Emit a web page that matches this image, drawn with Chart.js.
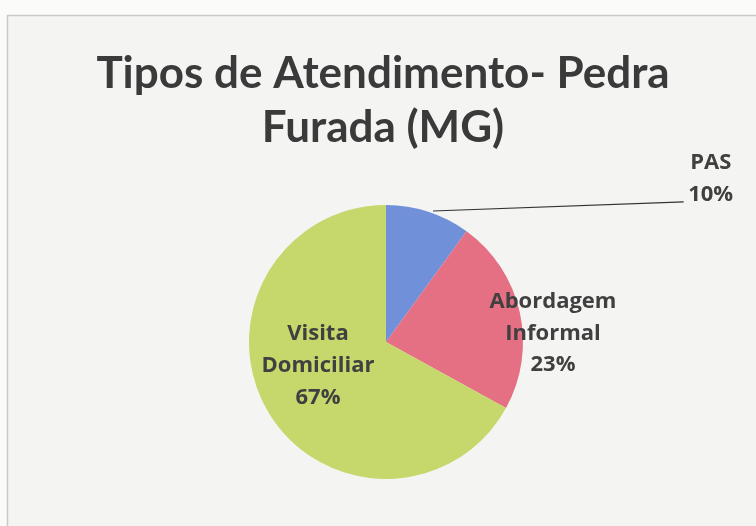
<!DOCTYPE html>
<html><head><meta charset="utf-8">
<script src="https://cdn.jsdelivr.net/npm/chart.js@4/dist/chart.umd.min.js"></script>
<style>html,body{margin:0;padding:0;background:#f7f7f5}canvas{display:block}</style>
</head><body>
<div style="width:756px;height:526px"><canvas id="c" width="756" height="526"></canvas></div>
<script>
const titleLines = ["Tipos de Atendimento- Pedra", "Furada (MG)"];
const categories = ["PAS", "Abordagem Informal", "Visita Domiciliar"];
const labelLines = [["PAS", "10%"], ["Abordagem", "Informal", "23%"], ["Visita", "Domiciliar", "67%"]];
const values = [10, 23, 67];
const colors = ["#7090d9", "#e57084", "#c6d76b"];

const decor = {
  id: 'decor',
  beforeDraw(chart) {
    const ctx = chart.ctx;
    ctx.save();
    ctx.fillStyle = '#fbfbfa';
    ctx.fillRect(0, 0, chart.width, chart.height);
    ctx.fillStyle = '#f4f4f2';
    ctx.fillRect(8, 15, chart.width - 8, chart.height - 15);
    ctx.strokeStyle = '#c9c9c6';
    ctx.lineWidth = 1.5;
    ctx.beginPath();
    ctx.moveTo(7.5, chart.height); ctx.lineTo(7.5, 15.5); ctx.lineTo(chart.width, 15.5);
    ctx.stroke();
    ctx.fillStyle = '#3a3a3a';
    ctx.textAlign = 'center';
    ctx.textBaseline = 'alphabetic';
    ctx.font = 'bold 44px Lato';
    ctx.fillText(titleLines[0], 383, 88);
    ctx.fillText(titleLines[1], 383, 142);
    ctx.restore();
  },
  afterDatasetsDraw(chart) {
    const ctx = chart.ctx;
    const arcs = chart.getDatasetMeta(0).data;
    ctx.save();
    ctx.fillStyle = '#404040';
    ctx.font = 'bold 22px "Open Sans"';
    ctx.textAlign = 'center';
    ctx.textBaseline = 'middle';
    const place = [null, {f: 1.249, dy: 29, lh: 31.5}, {f: 0.577, dy: -17, lh: 32}];
    arcs.forEach((a, i) => {
      const mid = (a.startAngle + a.endAngle) / 2;
      const r = a.outerRadius;
      const lines = labelLines[i];
      let cx, cy, lh;
      if (i === 0) {
        cx = a.x + r * 2.37; cy = a.y - r * 1.19; lh = 32;
        ctx.strokeStyle = '#333';
        ctx.lineWidth = 1.2;
        ctx.beginPath();
        ctx.moveTo(a.x + 47, a.y - r + 6);
        ctx.lineTo(cx - 27, cy + 23);
        ctx.stroke();
      } else {
        cx = a.x + Math.cos(mid) * r * place[i].f;
        cy = a.y + Math.sin(mid) * r * place[i].f + place[i].dy;
        lh = place[i].lh;
      }
      const y0 = cy - (lines.length - 1) * lh / 2;
      lines.forEach((t, k) => ctx.fillText(t, cx, y0 + k * lh));
    });
    ctx.restore();
  }
};

new Chart(document.getElementById('c'), {
  type: 'pie',
  data: {
    labels: categories,
    datasets: [{ data: values, backgroundColor: colors, borderWidth: 0 }]
  },
  options: {
    responsive: false,
    animation: false,
    layout: { padding: { top: 205, bottom: 47, left: 249, right: 233 } },
    plugins: { legend: { display: false }, tooltip: { enabled: false }, title: { display: false } }
  },
  plugins: [decor]
});
</script>
</body></html>
